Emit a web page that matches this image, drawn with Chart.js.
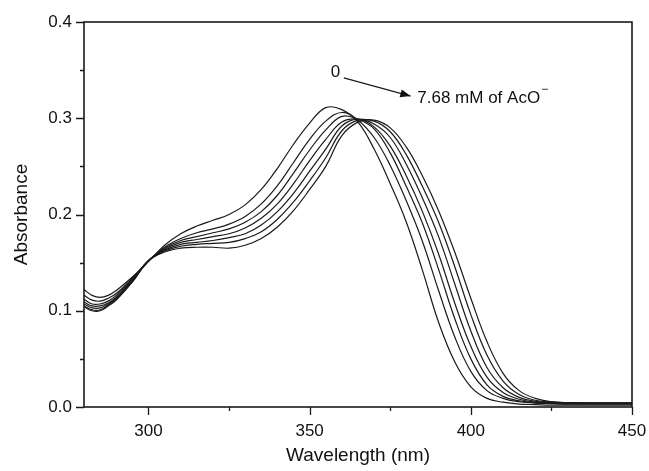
<!DOCTYPE html>
<html>
<head>
<meta charset="utf-8">
<script src="https://cdn.jsdelivr.net/npm/chart.js@4"></script>
<style>
  html, body { margin: 0; padding: 0; background: #fff; }
</style>
</head>
<body>
<canvas id="spectra" width="649" height="471"></canvas>
<script>
// ---------------------------------------
// UV-vis titration spectra (AcO- addition)
// ---------------------------------------

const wavelengths = [280, 282.5, 285, 287.5, 290, 295, 300, 305, 310, 315, 320, 325, 330, 335, 340, 345, 350, 355, 360, 365, 370, 375, 380, 385, 390, 395, 400, 405, 410, 415, 420, 425, 430, 440, 450];

// 0 mM ... 7.68 mM
const curve0 = [0.122, 0.116, 0.114, 0.116, 0.121, 0.135, 0.151, 0.168, 0.180, 0.188, 0.194, 0.200, 0.210, 0.226, 0.248, 0.273, 0.295, 0.311, 0.309, 0.296, 0.268, 0.232, 0.192, 0.142, 0.088, 0.047, 0.021, 0.009, 0.005, 0.003, 0.0025, 0.002, 0.002, 0.002, 0.002];
const curve1 = [0.116, 0.111, 0.110, 0.113, 0.118, 0.134, 0.152, 0.166, 0.175, 0.181, 0.185, 0.190, 0.198, 0.211, 0.230, 0.254, 0.278, 0.297, 0.306, 0.298, 0.280, 0.251, 0.214, 0.172, 0.121, 0.073, 0.037, 0.017, 0.009, 0.0055, 0.004, 0.0035, 0.003, 0.003, 0.003];
const curve2 = [0.112, 0.107, 0.107, 0.110, 0.116, 0.133, 0.152, 0.165, 0.173, 0.177, 0.181, 0.185, 0.192, 0.203, 0.220, 0.243, 0.267, 0.288, 0.302, 0.299, 0.289, 0.264, 0.229, 0.191, 0.143, 0.092, 0.050, 0.023, 0.011, 0.0065, 0.0045, 0.004, 0.0035, 0.0035, 0.0035];
const curve3 = [0.109, 0.105, 0.105, 0.108, 0.114, 0.132, 0.152, 0.164, 0.171, 0.174, 0.177, 0.180, 0.186, 0.196, 0.211, 0.232, 0.256, 0.278, 0.296, 0.299, 0.291, 0.271, 0.240, 0.203, 0.159, 0.108, 0.063, 0.031, 0.015, 0.008, 0.005, 0.004, 0.004, 0.004, 0.004];
const curve4 = [0.107, 0.103, 0.103, 0.107, 0.113, 0.131, 0.152, 0.163, 0.169, 0.171, 0.173, 0.176, 0.180, 0.189, 0.203, 0.222, 0.245, 0.268, 0.292, 0.299, 0.294, 0.280, 0.252, 0.217, 0.177, 0.128, 0.079, 0.041, 0.020, 0.010, 0.006, 0.0045, 0.004, 0.004, 0.004];
const curve5 = [0.105, 0.101, 0.101, 0.106, 0.112, 0.130, 0.152, 0.162, 0.167, 0.169, 0.170, 0.171, 0.175, 0.182, 0.195, 0.213, 0.235, 0.259, 0.287, 0.298, 0.297, 0.286, 0.262, 0.229, 0.192, 0.146, 0.096, 0.054, 0.027, 0.013, 0.007, 0.005, 0.0045, 0.004, 0.004];
const curve6 = [0.104, 0.100, 0.100, 0.105, 0.111, 0.130, 0.152, 0.161, 0.165, 0.166, 0.166, 0.165, 0.168, 0.175, 0.187, 0.204, 0.226, 0.250, 0.282, 0.296, 0.298, 0.290, 0.270, 0.240, 0.204, 0.161, 0.113, 0.068, 0.035, 0.017, 0.009, 0.0055, 0.0045, 0.004, 0.004];

const curves = [curve0, curve1, curve2, curve3, curve4, curve5, curve6];

const xMajor = [300, 350, 400, 450];
const xMinor = [325, 375, 425];
const yMajor = [0, 0.1, 0.2, 0.3, 0.4];
const yMinor = [0.05, 0.15, 0.25, 0.35];

const FONT = "'Liberation Sans', Arial, sans-serif";


// tick marks, frame and the arrow note
const frameAndNote = {
  id: "frameAndNote",
  afterDatasetsDraw(chart) {
    const ctx = chart.ctx;
    const a = chart.chartArea;
    const x = chart.scales.x;
    const y = chart.scales.y;

    ctx.save();
    ctx.strokeStyle = "#1a1a1a";
    ctx.lineWidth = 1.6;
    ctx.strokeRect(a.left, a.top, a.right - a.left, a.bottom - a.top);

    ctx.lineWidth = 1.3;
    ctx.beginPath();
    xMajor.forEach(v => {
      const px = Math.round(x.getPixelForValue(v)) + 0.5;
      ctx.moveTo(px, a.bottom); ctx.lineTo(px, a.bottom + 8);
    });
    xMinor.forEach(v => {
      const px = Math.round(x.getPixelForValue(v)) + 0.5;
      ctx.moveTo(px, a.bottom); ctx.lineTo(px, a.bottom + 4);
    });
    yMajor.forEach(v => {
      const py = Math.round(y.getPixelForValue(v)) + 0.5;
      ctx.moveTo(a.left, py); ctx.lineTo(a.left - 8, py);
    });
    yMinor.forEach(v => {
      const py = Math.round(y.getPixelForValue(v)) + 0.5;
      ctx.moveTo(a.left, py); ctx.lineTo(a.left - 4, py);
    });
    ctx.stroke();

    // "0" -> "7.68 mM of AcO-"
    ctx.fillStyle = "#111";
    ctx.font = "17px " + FONT;
    ctx.textBaseline = "middle";
    ctx.textAlign = "center";
    ctx.fillText("0", x.getPixelForValue(358), y.getPixelForValue(0.348));

    const x1 = x.getPixelForValue(360.6), y1 = y.getPixelForValue(0.342);
    const x2 = x.getPixelForValue(381.3), y2 = y.getPixelForValue(0.323);
    ctx.lineWidth = 1.2;
    ctx.beginPath();
    ctx.moveTo(x1, y1); ctx.lineTo(x2, y2);
    ctx.stroke();
    const ang = Math.atan2(y2 - y1, x2 - x1);
    ctx.beginPath();
    ctx.moveTo(x2, y2);
    ctx.lineTo(x2 - 11 * Math.cos(ang - 0.38), y2 - 11 * Math.sin(ang - 0.38));
    ctx.lineTo(x2 - 11 * Math.cos(ang + 0.38), y2 - 11 * Math.sin(ang + 0.38));
    ctx.closePath();
    ctx.fill();

    ctx.textAlign = "left";
    const tx = x.getPixelForValue(383.4), ty = y.getPixelForValue(0.321);
    const label = "7.68 mM of AcO";
    ctx.fillText(label, tx, ty);
    const w = ctx.measureText(label).width;
    ctx.font = "12px " + FONT;
    ctx.fillText("\u2212", tx + w + 1, ty - 8);
    ctx.restore();
  }
};


new Chart(document.getElementById("spectra"), {
  type: "line",
  data: {
    datasets: curves.map(c => ({
      data: wavelengths.map((w, i) => ({ x: w, y: c[i] })),
      borderColor: "#1a1a1a",
      borderWidth: 1.2,
      pointRadius: 0,
      fill: false,
      tension: 0.4
    }))
  },
  options: {
    responsive: false,
    animation: false,
    devicePixelRatio: 1,
    layout: { padding: { top: 22, right: 17, left: 0, bottom: 0 } },
    plugins: { legend: { display: false }, tooltip: { enabled: false } },
    scales: {
      x: {
        type: "linear",
        min: 280,
        max: 450,
        grid: { display: false },
        border: { display: false },
        afterBuildTicks: s => { s.ticks = xMajor.map(v => ({ value: v })); },
        afterFit: s => { s.height = 64; s.paddingLeft = 0; s.paddingRight = 0; },
        ticks: {
          color: "#111",
          padding: 6,
          font: { family: FONT, size: 17 },
          maxRotation: 0
        },
        title: {
          display: true,
          text: "Wavelength (nm)",
          color: "#111",
          font: { family: FONT, size: 19 },
          padding: { top: 0, bottom: 4 }
        }
      },
      y: {
        min: 0,
        max: 0.4,
        grid: { display: false },
        border: { display: false },
        afterBuildTicks: s => { s.ticks = yMajor.map(v => ({ value: v })); },
        afterFit: s => { s.width = 84; s.paddingTop = 0; s.paddingBottom = 0; },
        ticks: {
          color: "#111",
          padding: 4,
          font: { family: FONT, size: 17 },
          callback: v => v.toFixed(1)
        },
        title: {
          display: true,
          text: "Absorbance",
          color: "#111",
          font: { family: FONT, size: 19 },
          padding: { top: 10, bottom: 0 }
        }
      }
    }
  },
  plugins: [frameAndNote]
});
</script>
</body>
</html>
